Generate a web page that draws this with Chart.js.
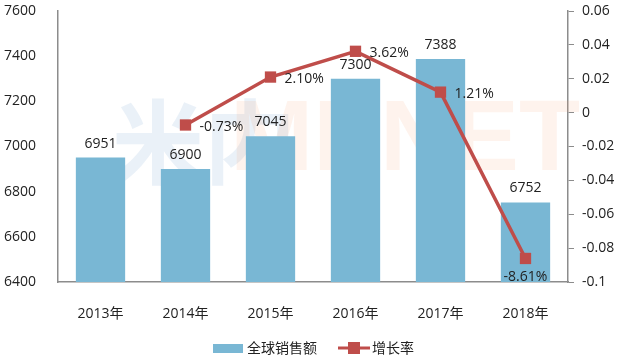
<!DOCTYPE html>
<html>
<head>
<meta charset="utf-8">
<script src="https://cdn.jsdelivr.net/npm/chart.js@4.4.1/dist/chart.umd.min.js"></script>
<style>
  html, body { margin: 0; padding: 0; background: #fff; }
  #wrap { width: 626px; height: 364px; }
</style>
</head>
<body>
<div id="wrap"><canvas id="salesChart" width="626" height="364"></canvas></div>
<script>
// 数据
const years = ['2013年', '2014年', '2015年', '2016年', '2017年', '2018年'];
const sales = [6951, 6900, 7045, 7300, 7388, 6752];
const growth = [null, -0.0073, 0.0210, 0.0362, 0.0121, -0.0861];
const growthLabels = ['', '-0.73%', '2.10%', '3.62%', '1.21%', '-8.61%'];

const FONT = "'Open Sans', 'Noto Sans CJK SC', sans-serif";
const barColor = '#79B7D4';
const lineColor = '#BF4D4A';
const axisColor = '#8C8C8C';

// 水印 + 数值标签 + 图例
const extrasPlugin = {
    id: 'extras',
    beforeDatasetsDraw(chart) {
        const ctx = chart.ctx;
        ctx.save();
        ctx.font = "bold 92px 'Noto Sans CJK SC', sans-serif";
        ctx.textBaseline = 'middle';
        ctx.textAlign = 'left';
        ctx.fillStyle = 'rgba(90,150,200,0.13)';
        ctx.fillText('米内', 112, 142);
        ctx.font = "bold 100px 'Liberation Sans', sans-serif";
        ctx.fillStyle = 'rgba(245,160,110,0.12)';
        ctx.fillText('MENET', 230, 142);
        ctx.restore();
    },
    afterDatasetsDraw(chart) {
        const ctx = chart.ctx;
        ctx.save();
        ctx.font = '14px ' + FONT;
        ctx.fillStyle = '#222';
        // 柱子数值
        const barMeta = chart.getDatasetMeta(0);
        ctx.textAlign = 'center';
        ctx.textBaseline = 'middle';
        barMeta.data.forEach((bar, i) => {
            ctx.fillText(String(sales[i]), bar.x, bar.y - 14);
        });
        // 增长率
        const lineMeta = chart.getDatasetMeta(1);
        lineMeta.data.forEach((pt, i) => {
            if (growth[i] === null) return;
            if (i === growth.length - 1) {
                ctx.textAlign = 'center';
                ctx.fillText(growthLabels[i], pt.x, pt.y + 19);
            } else {
                ctx.textAlign = 'left';
                ctx.fillText(growthLabels[i], pt.x + 14, pt.y + 2);
            }
        });
        ctx.restore();
    },
    afterDraw(chart) {
        const ctx = chart.ctx;
        ctx.save();
        const y = 348;
        ctx.fillStyle = barColor;
        ctx.fillRect(213, y - 4, 30, 9);
        ctx.font = '14px ' + FONT;
        ctx.fillStyle = '#222';
        ctx.textAlign = 'left';
        ctx.textBaseline = 'middle';
        ctx.fillText('全球销售额', 247, y + 1);
        ctx.strokeStyle = lineColor;
        ctx.lineWidth = 3;
        ctx.beginPath();
        ctx.moveTo(338, y);
        ctx.lineTo(370, y);
        ctx.stroke();
        ctx.fillStyle = lineColor;
        ctx.fillRect(348, y - 6, 12, 12);
        ctx.fillStyle = '#222';
        ctx.fillText('增长率', 372, y + 1);
        ctx.restore();
    }
};

// 固定坐标轴宽度，去掉标签带来的上下留白
function fixSide(scale) {
    scale.width = 58;
    scale.paddingTop = 0;
    scale.paddingBottom = 0;
}

new Chart(document.getElementById('salesChart').getContext('2d'), {
    type: 'bar',
    data: {
        labels: years,
        datasets: [{
            type: 'bar',
            label: '全球销售额',
            data: sales,
            backgroundColor: barColor,
            yAxisID: 'y',
            categoryPercentage: 1,
            barPercentage: 0.58,
            order: 2
        }, {
            type: 'line',
            label: '增长率',
            data: growth,
            borderColor: lineColor,
            backgroundColor: lineColor,
            borderWidth: 3.5,
            pointStyle: 'rect',
            pointRadius: 8,
            pointBorderWidth: 0,
            tension: 0,
            yAxisID: 'y1',
            order: 1
        }]
    },
    options: {
        responsive: false,
        animation: false,
        layout: { padding: { top: 11, left: 0, right: 0, bottom: 0 } },
        plugins: {
            legend: { display: false },
            tooltip: { enabled: false }
        },
        scales: {
            x: {
                grid: { display: false },
                border: { color: axisColor, width: 1.5 },
                ticks: { color: '#222', font: { family: FONT, size: 14 }, padding: 16, maxRotation: 0 },
                afterFit(scale) {
                    scale.height = 82;
                    scale.paddingLeft = 0;
                    scale.paddingRight = 0;
                }
            },
            y: {
                position: 'left',
                min: 6400,
                max: 7600,
                grid: { display: false },
                border: { color: axisColor, width: 1.5 },
                ticks: {
                    stepSize: 200,
                    color: '#222',
                    font: { family: FONT, size: 14 },
                    padding: 14,
                    callback: v => String(v)
                },
                afterFit: fixSide
            },
            y1: {
                position: 'right',
                min: -0.1,
                max: 0.06,
                grid: { drawOnChartArea: false, drawTicks: true, tickLength: 6, color: axisColor },
                border: { color: axisColor, width: 1.5 },
                ticks: {
                    stepSize: 0.02,
                    color: '#222',
                    font: { family: FONT, size: 14 },
                    padding: 8,
                    callback: v => String(+v.toFixed(2))
                },
                afterFit: fixSide
            }
        }
    },
    plugins: [extrasPlugin]
});
</script>
</body>
</html>
